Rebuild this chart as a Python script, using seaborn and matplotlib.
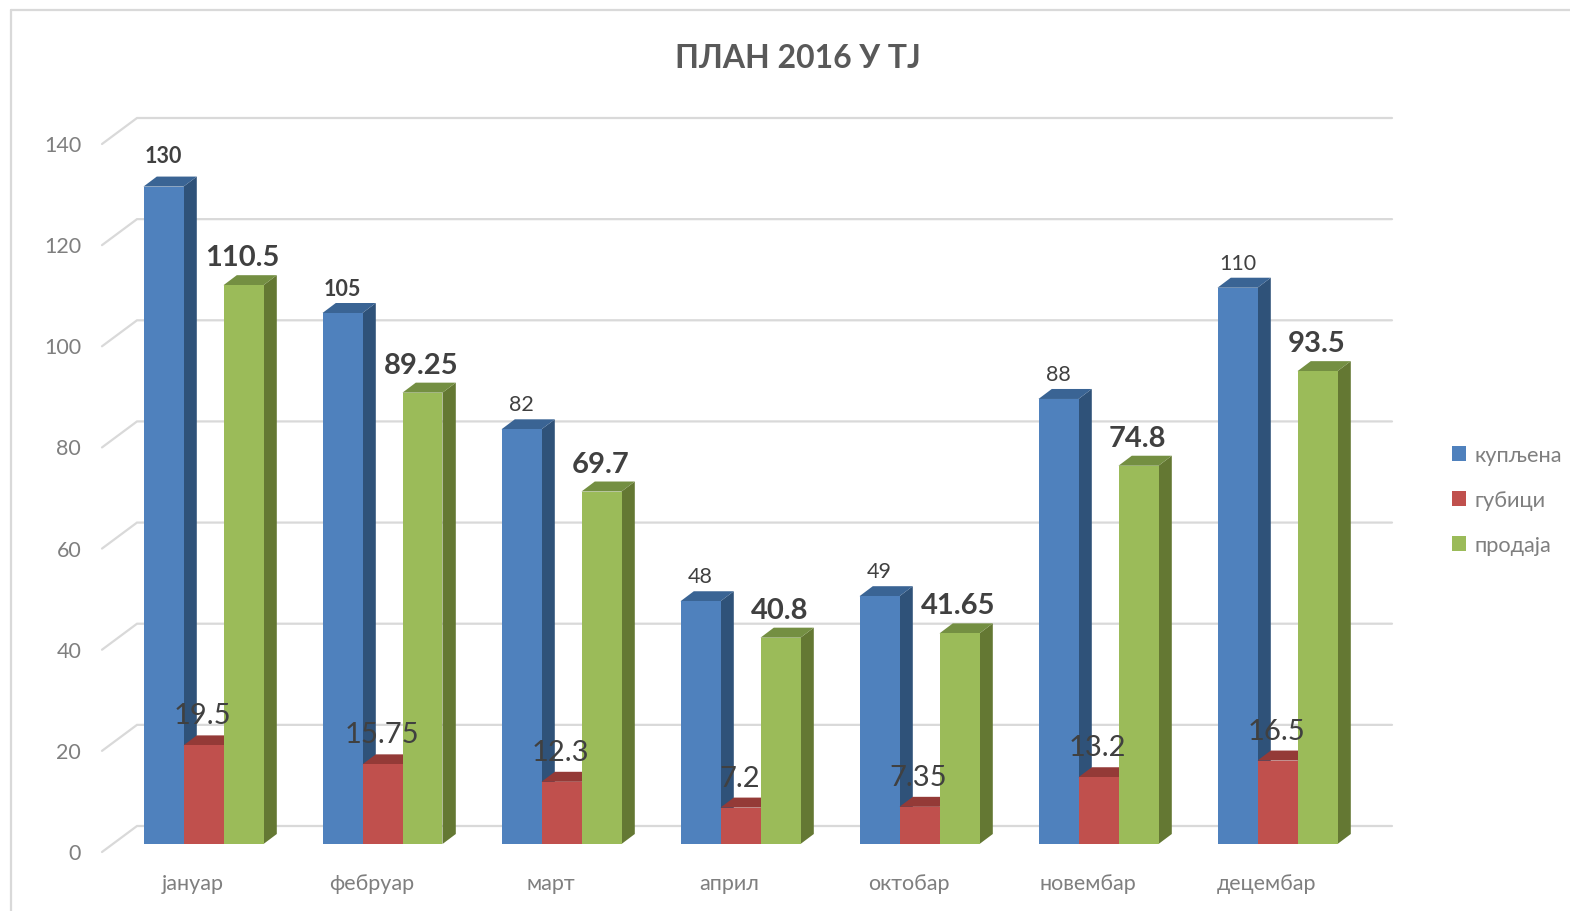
import matplotlib
matplotlib.use("Agg")
import matplotlib.pyplot as plt
from matplotlib.lines import Line2D
from matplotlib.transforms import Affine2D
import pandas as pd
import seaborn as sns

months = ["јануар", "фебруар", "март", "април", "октобар", "новембар", "децембар"]
kupljena = [130, 105, 82, 48, 49, 88, 110]
gubici = [19.5, 15.75, 12.3, 7.2, 7.35, 13.2, 16.5]
prodaja = [110.5, 89.25, 69.7, 40.8, 41.65, 74.8, 93.5]
series_names = ["купљена", "губици", "продаја"]
y_ticks = [0, 20, 40, 60, 80, 100, 120, 140]
title = "ПЛАН 2016 У ТЈ"

front_colors = ["#4F81BD", "#C0504D", "#9BBB59"]
side_colors = ["#2F5279", "#8A3230", "#647833"]
top_colors = ["#3A6494", "#943A37", "#748F42"]
bold_blue = {130, 105}
label_nudge = {130: 6}

W, H = 1570, 912
PX_L, PX_R, PX_B, PX_T = 102, 1392, 845, 137
GROUP0, STEP = 203.5, 179.0
PX_PER_UNIT = (PX_B - PX_T) / 140
DEPTH_X = 13.3 / STEP
DEPTH_Y = 10 / PX_PER_UNIT

df = pd.DataFrame({
    "month": months * 3,
    "series": [s for s in series_names for _ in months],
    "value": kupljena + gubici + prodaja,
})

sns.set_theme(style="white")
plt.rcParams["font.family"] = ["Lato", "DejaVu Sans"]

fig = plt.figure(figsize=(W / 100, H / 100), dpi=100, facecolor="white")
ax = fig.add_axes([PX_L / W, 1 - PX_B / H, (PX_R - PX_L) / W, (PX_B - PX_T) / H])

sns.barplot(data=df, x="month", y="value", hue="series", hue_order=series_names,
            order=months, palette=front_colors, saturation=1, width=120 / STEP,
            gap=0, ax=ax, linewidth=0)

ax.set_xlim((PX_L - GROUP0) / STEP, (PX_R - GROUP0) / STEP)
ax.set_ylim(0, 140)
ax.set_xlabel("")
ax.set_ylabel("")
ax.patch.set_alpha(0)
for spine in ax.spines.values():
    spine.set_visible(False)

# Back wall grid and floor diagonals
back_up = 18 / PX_PER_UNIT
front_down = 8 / PX_PER_UNIT
x_left = ax.get_xlim()[0]
x_back = x_left + 35 / STEP
x_right = ax.get_xlim()[1]
for v in y_ticks:
    ax.plot([x_left, x_back, x_right], [v - front_down, v + back_up, v + back_up],
            color="#D9D9D9", lw=1.6, zorder=1, clip_on=False, solid_joinstyle="miter")

# Faux 3D faces built from each bar's own geometry
for h, container in enumerate(ax.containers):
    for bar in container:
        x0 = bar.get_x()
        x1 = x0 + bar.get_width()
        top = bar.get_height()
        bar.set_zorder(2.5 + h)
        ax.fill([x1, x1 + DEPTH_X, x1 + DEPTH_X, x1],
                [0, DEPTH_Y, top + DEPTH_Y, top],
                color=side_colors[h], lw=0, zorder=2 + h, clip_on=False)
        ax.fill([x0, x0 + DEPTH_X, x1 + DEPTH_X, x1],
                [top, top + DEPTH_Y, top + DEPTH_Y, top],
                color=top_colors[h], lw=0, zorder=2 + h, clip_on=False)

# Value labels
for h, container in enumerate(ax.containers):
    for bar in container:
        v = bar.get_height()
        cx = bar.get_x() + bar.get_width() / 2
        if h == 0:
            size, weight, off = 15.5, ("bold" if v in bold_blue else "normal"), 25
        elif h == 1:
            size, weight, off = 21, "normal", 30
        else:
            size, weight, off = 21, "bold", 28
        off += label_nudge.get(v, 0)
        ax.annotate(f"{v:g}", (cx, v), xytext=(-1 if h else 0, off), textcoords="offset pixels",
                    ha="center", va="center", fontsize=size, fontweight=weight,
                    color="#404040", zorder=10, annotation_clip=False)

# Axis tick labels
ax.set_yticks(y_ticks)
ax.set_yticklabels([str(v) for v in y_ticks], fontsize=15.5, color="#7F7F7F")
ax.tick_params(axis="y", length=0, pad=15)
ax.tick_params(axis="x", length=0, pad=21)
ax.set_xticks(range(len(months)))
ax.set_xticklabels(months, fontsize=15.5, color="#7F7F7F")
for lab in ax.get_yticklabels():
    lab.set_transform(lab.get_transform() + Affine2D().translate(0, -7))
for lab in ax.get_xticklabels():
    lab.set_transform(lab.get_transform() + Affine2D().translate(-11, 0))

# Legend
sns.move_legend(ax, "center left", bbox_to_anchor=(1452 / W, 1 - 501 / H),
                bbox_transform=fig.transFigure, title=None, frameon=False,
                fontsize=15.7, handlelength=0.65, handleheight=0.65,
                handletextpad=0.36, labelspacing=1.15, labelcolor="#7F7F7F",
                borderpad=0, borderaxespad=0)

fig.text(798 / W, 1 - 58 / H, title, ha="center", va="center", fontsize=23,
         fontweight="bold", color="#595959")

# Chart frame
for xs, ys in (([11, 11], [H, 11]), ([11, W], [11, 11])):
    fig.add_artist(Line2D([x / W for x in xs], [1 - y / H for y in ys],
                          color="#D9D9D9", lw=1.6))

fig.savefig("out.png", dpi=100)
